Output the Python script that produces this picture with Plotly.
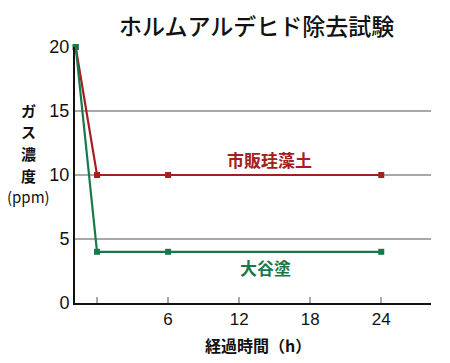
import plotly.graph_objects as go

hours = [-1.8, 0, 6, 24]
diatomite = [20, 10, 10, 10]
oya = [20, 4, 4, 4]
x_ticks = [0, 6, 12, 18, 24]
x_ticktext = ["", "6", "12", "18", "24"]
y_ticks = [0, 5, 10, 15, 20]
y_title_chars = ["ガ", "ス", "濃", "度"]
y_title_unit = "(ppm)"

RED = "#a3201f"
GREEN = "#17794a"
FONT = "Noto Sans CJK JP"

fig = go.Figure()
fig.add_trace(go.Scatter(x=hours, y=diatomite, mode="lines+markers",
                         line=dict(color=RED, width=2.2),
                         marker=dict(symbol="square", size=6, color=RED),
                         cliponaxis=False, showlegend=False))
fig.add_trace(go.Scatter(x=hours, y=oya, mode="lines+markers",
                         line=dict(color=GREEN, width=2.2),
                         marker=dict(symbol="square", size=6, color=GREEN),
                         cliponaxis=False, showlegend=False))

L, T, B, W, H = 75, 47, 60, 450, 363
PW, PH = W - L - 19, H - T - B


def px(x):
    return (x - L) / PW


def py(y):
    return 1 - (y - T) / PH


annotations = [
    dict(text="ホルムアルデヒド除去試験", x=0.51, xref="paper", y=py(25), yref="paper",
         yanchor="middle", xanchor="center", showarrow=False,
         font=dict(family=FONT, size=23, color="#111", weight=500)),
    dict(text="経過時間（h）", xref="paper", x=0.515, yref="paper", y=py(345),
         xanchor="center", yanchor="middle", showarrow=False,
         font=dict(family=FONT, size=16, color="#111", weight="bold")),
    dict(text="市販珪藻土", x=14.6, y=11.2, xref="x", yref="y", showarrow=False,
         font=dict(family=FONT, size=17, color=RED, weight="bold")),
    dict(text="大谷塗", x=14.2, y=2.8, xref="x", yref="y", showarrow=False,
         font=dict(family=FONT, size=17, color=GREEN, weight="bold")),
]
for ch, ypix in zip(y_title_chars, [110, 131, 153, 175]):
    annotations.append(dict(text=ch, xref="paper", x=px(29), yref="paper", y=py(ypix),
                            xanchor="center", yanchor="middle", showarrow=False,
                            font=dict(family=FONT, size=15, color="#111", weight="bold")))
annotations.append(dict(text=y_title_unit, xref="paper", x=px(28), yref="paper", y=py(196),
                        xanchor="center", yanchor="middle", showarrow=False,
                        font=dict(family=FONT, size=15, color="#111")))

fig.update_layout(
    width=W, height=H,
    margin=dict(l=L, r=19, t=T, b=B),
    plot_bgcolor="white", paper_bgcolor="white",
    font=dict(family="Liberation Sans, Arial", size=16, color="#111"),
    xaxis=dict(range=[-1.86, 28.2], tickvals=x_ticks, ticktext=x_ticktext,
               showgrid=False, zeroline=False, showline=True, linecolor="#111",
               linewidth=2, ticks="inside", ticklen=6, tickcolor="#aaa",
               tickwidth=1.5, tickfont=dict(size=17)),
    yaxis=dict(range=[0, 20], tickvals=y_ticks, showgrid=True, gridcolor="#a8a8a8",
               gridwidth=2, zeroline=False, showline=True, linecolor="#111",
               linewidth=2, ticks="", tickfont=dict(size=18)),
    annotations=annotations,
)

fig.write_html("out.html")
